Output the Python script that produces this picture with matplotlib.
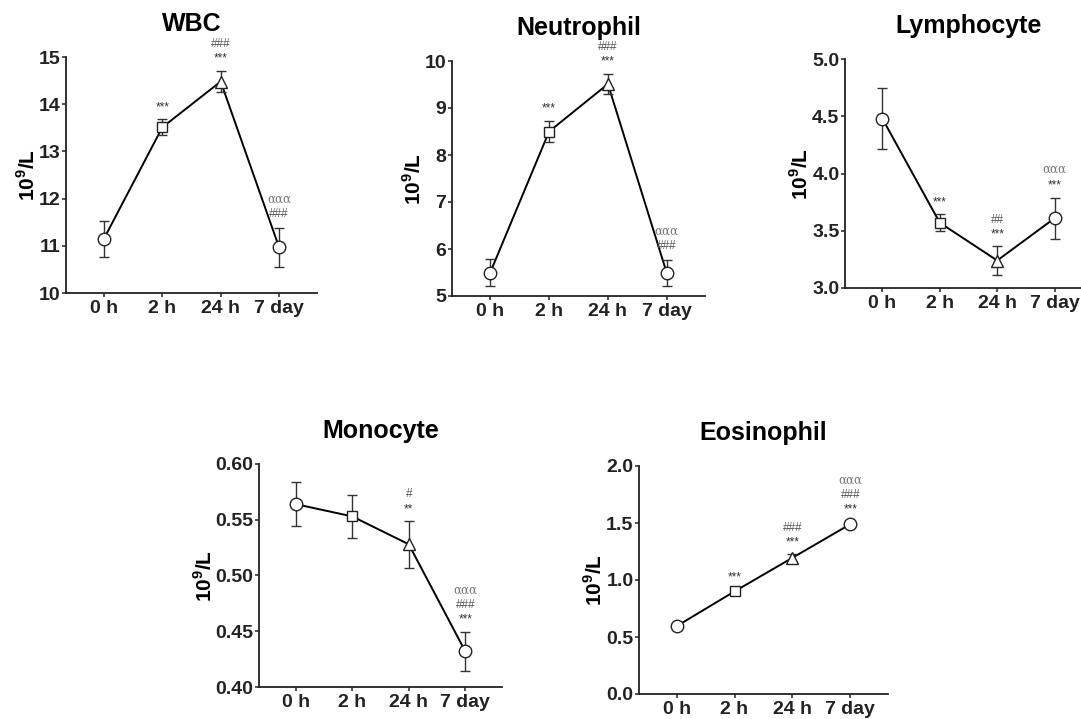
import matplotlib
matplotlib.use("Agg")
import matplotlib.pyplot as plt
import numpy as np

plt.rcParams['font.family'] = ['Liberation Sans', 'DejaVu Sans']
plt.rcParams['mathtext.fontset'] = 'custom'
plt.rcParams['mathtext.bf'] = 'Liberation Sans:bold'
plt.rcParams['mathtext.rm'] = 'Liberation Sans:bold'

timepoints = ["0 h", "2 h", "24 h", "7 day"]
markers = ["o", "s", "^", "o"]

# mean values and error-bar half widths
wbc = [11.15, 13.51, 14.48, 10.97]
wbc_err = [0.38, 0.17, 0.23, 0.41]
neut = [5.50, 8.50, 9.51, 5.49]
neut_err = [0.28, 0.23, 0.22, 0.27]
lymph = [4.48, 3.57, 3.24, 3.61]
lymph_err = [0.27, 0.075, 0.125, 0.18]
mono = [0.564, 0.553, 0.528, 0.432]
mono_err = [0.020, 0.019, 0.021, 0.0175]
eos = [0.595, 0.90, 1.195, 1.49]
eos_err = [0.03, 0.02, 0.03, 0.025]

# significance marks, bottom line first
wbc_sig = [[], ["***"], ["***", "###"], ["###", "ααα"]]
neut_sig = [[], ["***"], ["***", "###"], ["###", "ααα"]]
lymph_sig = [[], ["***"], ["***", "##"], ["***", "ααα"]]
mono_sig = [[], [], ["**", "#"], ["***", "###", "ααα"]]
eos_sig = [[], ["***"], ["***", "###"], ["***", "###", "ααα"]]

panels = [
    ("WBC", wbc, wbc_err, wbc_sig, (10, 15), np.arange(10, 16, 1), "%d", (66, 317, 57, 293)),
    ("Neutrophil", neut, neut_err, neut_sig, (5, 10), np.arange(5, 11, 1), "%d", (452, 705, 61, 296)),
    ("Lymphocyte", lymph, lymph_err, lymph_sig, (3, 5), np.arange(3, 5.01, 0.5), "%.1f", (845, 1092, 59, 288)),
    ("Monocyte", mono, mono_err, mono_sig, (0.40, 0.60), np.arange(0.40, 0.601, 0.05), "%.2f", (259, 502, 464, 687)),
    ("Eosinophil", eos, eos_err, eos_sig, (0, 2), np.arange(0, 2.01, 0.5), "%.1f", (639, 888, 466, 694)),
]

W, H = 1081, 719
fig = plt.figure(figsize=(W / 100, H / 100), dpi=100)

sig_colors = {"*": "#333333", "#": "#555555", "α": "#777777"}
sig_size = 8.5
# visual centre of each glyph above its baseline, in points
glyph_mid = {"*": 0.60 * sig_size, "#": 0.42 * sig_size, "α": 0.28 * sig_size}
ms = {"o": 9, "s": 7.5, "^": 8.5}

for title, vals, errs, sigs, ylim, yt, fmt, (l, r, t, b) in panels:
    ax = fig.add_axes([l / W, 1 - b / H, (r - l) / W, (b - t) / H])
    x = np.arange(len(vals))
    ax.plot(x, vals, color="black", lw=1.4, zorder=2)
    for i in range(len(vals)):
        ax.errorbar(x[i], vals[i], yerr=errs[i], fmt=markers[i], mfc="white",
                    mec="#222222", ms=ms[markers[i]], mew=1.0,
                    ecolor="#333333", elinewidth=1.0, capsize=3.6, capthick=1.0, zorder=3)
        for j, s in enumerate(sigs[i]):
            fam = ['DejaVu Serif'] if s[0] == "α" else ['Liberation Sans', 'DejaVu Sans']
            dy = (16 + 12.5 * j) * 0.72 - glyph_mid[s[0]]
            ax.annotate(s, (x[i], vals[i] + errs[i]), xytext=(0, dy),
                        textcoords="offset points", ha="center", va="baseline",
                        fontsize=sig_size, color=sig_colors[s[0]], family=fam)
    ax.set_xlim(-0.65, 3.65)
    ax.set_ylim(*ylim)
    ax.set_yticks(yt)
    ax.set_yticklabels([fmt % v for v in yt])
    ax.set_xticks(x)
    ax.set_xticklabels(timepoints)
    for lab in ax.get_xticklabels() + ax.get_yticklabels():
        lab.set_fontweight("bold")
        lab.set_fontsize(14)
    ax.spines["top"].set_visible(False)
    ax.spines["right"].set_visible(False)
    for sp in ("left", "bottom"):
        ax.spines[sp].set_linewidth(1.3)
        ax.spines[sp].set_color("#222222")
    ax.tick_params(length=3, width=1.1, colors="#222222")
    ax.tick_params(axis="y", pad=1)
    ax.tick_params(axis="x", pad=2)
    ax.set_title(title, fontsize=18, fontweight="bold", pad=19)
    ax.set_ylabel(r"10$^{\mathbf{9}}$/L", fontsize=15, fontweight="bold", labelpad=0)

fig.savefig("out.png", dpi=100, facecolor="white")
